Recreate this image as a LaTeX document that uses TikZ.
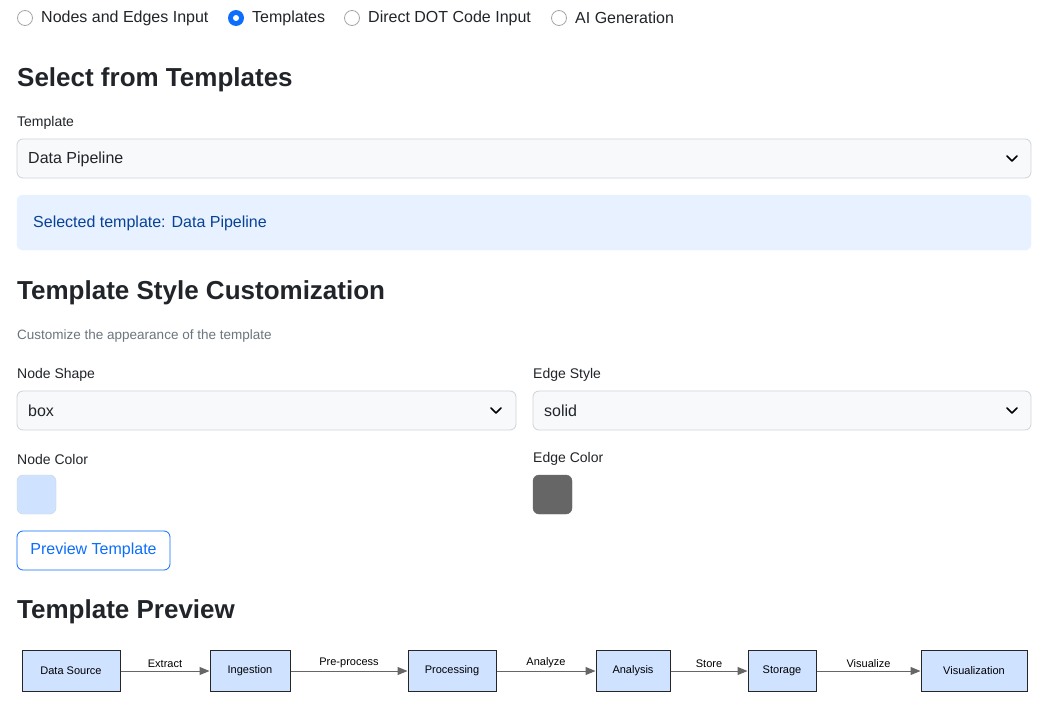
\documentclass[tikz,border=0pt]{standalone}
\usepackage{fontspec}
\setmainfont{Liberation Sans}
\usetikzlibrary{arrows.meta}
\definecolor{txt}{HTML}{212529}
\definecolor{bord}{HTML}{CED4DA}
\definecolor{selbg}{HTML}{F8F9FA}
\definecolor{blu}{HTML}{0D6EFD}
\definecolor{infobg}{HTML}{E7F1FF}
\definecolor{infotx}{HTML}{084298}
\definecolor{muted}{HTML}{6C757D}
\definecolor{nodebg}{HTML}{CFE2FF}
\definecolor{edgec}{HTML}{666666}
\begin{document}
\begin{tikzpicture}[x=1pt,y=-1pt,
  lbl/.style={anchor=west,inner sep=0,text=txt,font=\fontsize{14}{16}\selectfont},
  radio/.style={anchor=west,inner sep=0,text=txt,font=\fontsize{16}{18}\selectfont},
  head/.style={anchor=west,inner sep=0,text=txt,font=\fontsize{26}{30}\selectfont\bfseries},
  selbox/.style={draw=bord,fill=selbg,rounded corners=6pt,line width=0.8pt},
  pnode/.style={draw=black!85,fill=nodebg,line width=1pt,font=\fontsize{11}{13}\selectfont,inner sep=0},
  elbl/.style={font=\fontsize{11}{13}\selectfont,inner sep=0,anchor=south,yshift=3pt},
  edge/.style={draw=edgec,line width=1pt,-{Triangle[length=10pt,width=8pt]}}]
\useasboundingbox[fill=white] (0,0) rectangle (1050,717);
% radios
\foreach \cx/\lx/\t in {25/41/Nodes and Edges Input,352/368/Direct DOT Code Input,559/575/AI Generation}{
  \draw[draw=black!35,line width=0.8pt,fill=white] (\cx,18) circle (7.5);
  \node[radio] at (\lx,18) {\t};}
\fill[blu] (236,18) circle (8);
\fill[white] (236,18) circle (3);
\node[radio] (r2) at (252,18) {Templates};
\node[head] (h1) at (17,80) {Select from Templates};
\node[lbl] (l1) at (17,123) {Template};
\draw[selbox] (17,139) rectangle (1031,178);
\node[radio] (s1) at (28,159) {Data Pipeline};
\draw[line width=1.5pt,line cap=round,line join=round] (1007,156) -- (1012,161) -- (1017,156);
\draw[draw=infobg,fill=infobg,rounded corners=6pt] (17,195) rectangle (1031,250);
\node[radio,text=infotx] (info) at (33,223) {Selected template: Data Pipeline};
\node[head] (h2) at (17,293) {Template Style Customization};
\node[lbl,text=muted,font=\fontsize{13.5}{16}\selectfont] (help) at (17,336) {Customize the appearance of the template};
\node[lbl] (l2) at (17,375) {Node Shape};
\node[lbl] (l3) at (533,375) {Edge Style};
\draw[selbox] (17,391) rectangle (516,430);
\node[radio] (s2) at (28,411) {box};
\draw[line width=1.5pt,line cap=round,line join=round] (491,408) -- (496,413) -- (501,408);
\draw[selbox] (533,391) rectangle (1031,430);
\node[radio] (s3) at (544,411) {solid};
\draw[line width=1.5pt,line cap=round,line join=round] (1007,408) -- (1012,413) -- (1017,408);
\node[lbl] (l4) at (17,459) {Node Color};
\node[lbl] (l5) at (533,459) {Edge Color};
\draw[draw=bord,fill=nodebg,rounded corners=6pt] (17,475) rectangle (56,514);
\draw[draw=black!60,fill=edgec,rounded corners=6pt] (533,475) rectangle (572,514);
\draw[draw=blu,fill=white,rounded corners=6pt,line width=0.8pt] (17,531) rectangle (170,570);
\node[radio,text=blu] (btn) at (93.5,550) [anchor=center] {Preview Template};
\node[head] (h3) at (17,612) {Template Preview};
% pipeline
\node[pnode,minimum width=98pt,minimum height=41pt] (a) at (71,671) {Data Source};
\node[pnode,minimum width=80pt,minimum height=41pt] (b) at (250,671) {Ingestion};
\node[pnode,minimum width=88pt,minimum height=41pt] (c) at (452,671) {Processing};
\node[pnode,minimum width=74pt,minimum height=41pt] (d) at (633,671) {Analysis};
\node[pnode,minimum width=68pt,minimum height=41pt] (e) at (782,671) {Storage};
\node[pnode,minimum width=106pt,minimum height=41pt] (f) at (974,671) {Visualization};
\draw[edge] (a) -- node[elbl]{Extract} (b);
\draw[edge] (b) -- node[elbl]{Pre-process} (c);
\draw[edge] (c) -- node[elbl]{Analyze} (d);
\draw[edge] (d) -- node[elbl]{Store} (e);
\draw[edge] (e) -- node[elbl]{Visualize} (f);
\end{tikzpicture}
\end{document}
